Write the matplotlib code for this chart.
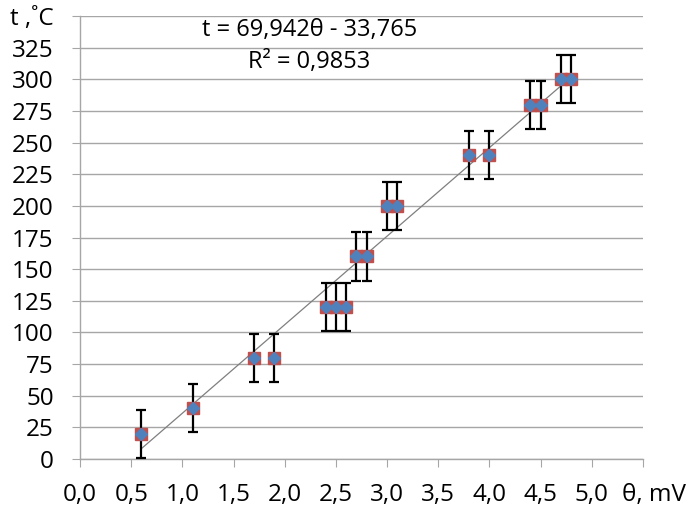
import matplotlib
matplotlib.use("Agg")
import matplotlib.pyplot as plt
import matplotlib.transforms as mtransforms
import numpy as np

plt.rcParams['font.family'] = ['Open Sans', 'DejaVu Sans']

# measured data (theta in mV, temperature in C)
theta = [0.6, 1.1, 1.7, 1.9, 2.4, 2.5, 2.6, 2.7, 2.8, 3.0, 3.1, 3.8, 4.0, 4.4, 4.5, 4.7, 4.8]
temp = [20, 40, 80, 80, 120, 120, 120, 160, 160, 200, 200, 240, 240, 280, 280, 300, 300]
temp_err = 19

# linear trendline as reported
slope = 69.942
intercept = -33.765
r2 = 0.9853

x_ticks = [0.0, 0.5, 1.0, 1.5, 2.0, 2.5, 3.0, 3.5, 4.0, 4.5, 5.0, 5.5]
x_labels = ["0,0", "0,5", "1,0", "1,5", "2,0", "2,5", "3,0", "3,5", "4,0", "4,5", "5,0", "θ, mV"]
y_ticks = list(range(0, 351, 25))
y_labels = [str(v) for v in y_ticks[:-1]] + ["t ,˚C"]

fig = plt.figure(figsize=(6.91, 5.17), dpi=100)
ax = fig.add_axes([0.1158, 0.1122, 0.8147, 0.8568])

grid_c = "#a6a6a6"

# trendline
xs = np.array([min(theta), max(theta)])
ax.plot(xs, slope * xs + intercept, color="#7f7f7f", lw=0.9, zorder=2)

# error bars
ax.errorbar(theta, temp, yerr=temp_err, fmt="none", ecolor="black",
            elinewidth=1.6, capsize=3.8, capthick=1.6, zorder=3)

# markers: red square with blue diamond
ax.plot(theta, temp, "s", color="#c0504d", markersize=9, lw=0, zorder=4)
ax.plot(theta, temp, "D", color="#4f81bd", markersize=6, lw=0, zorder=5)

fmt = lambda v: f"{v:.3f}".replace(".", ",")
ax.text(2.24, 339, f"t = {fmt(slope)}θ - {fmt(abs(intercept))}", ha="center", va="center",
        fontsize=17)
ax.text(2.24, 313.5, f"R² = {r2:.4f}".replace(".", ","), ha="center", va="center",
        fontsize=17)

ax.set_xlim(0, 5.5)
ax.set_ylim(0, 350)
ax.set_xticks(x_ticks)
ax.set_xticklabels(x_labels)
ax.set_yticks(y_ticks)
ax.set_yticklabels(y_labels)

ax.grid(True, axis="y", color=grid_c, lw=1)
ax.set_axisbelow(True)
for s in ["top", "right"]:
    ax.spines[s].set_visible(False)
for s in ["left", "bottom"]:
    ax.spines[s].set_color(grid_c)
    ax.spines[s].set_linewidth(1)

ax.tick_params(axis="x", direction="out", length=6, color=grid_c, pad=11, labelsize=17.5)
ax.tick_params(axis="y", direction="out", length=6, color=grid_c, pad=13, labelsize=17.5)

# nudge the unit label on the x axis to the right
last = ax.get_xticklabels()[-1]
last.set_transform(last.get_transform() + mtransforms.ScaledTranslation(8 / 72, 0, fig.dpi_scale_trans))

fig.savefig("out.png", dpi=100)
